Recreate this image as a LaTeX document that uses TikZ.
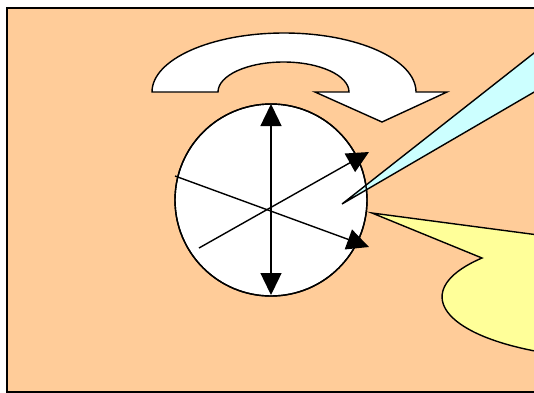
\documentclass[tikz,border=0pt]{standalone}
\usetikzlibrary{arrows.meta}
\definecolor{bgorange}{HTML}{FFCC99}
\definecolor{lightcyan}{HTML}{CCFFFF}
\definecolor{lightyellow}{HTML}{FFFF99}
\begin{document}
\begin{tikzpicture}[x=1pt,y=1pt,
  outline/.style={draw=black,line width=1.4pt,line join=miter},
  arr/.style={line width=1.4pt,-{Triangle[length=22pt,width=21pt]}},
  darr/.style={line width=1.4pt,{Triangle[length=22pt,width=21pt]}-{Triangle[length=22pt,width=21pt]}}]
\useasboundingbox (0,0) rectangle (534,-392);
\clip (0,0) rectangle (534,-392);
% background panel
\draw[outline,fill=bgorange] (7,-8) rectangle (560,-392);
% curved U-turn arrow
\draw[outline,fill=white] (152,-92) arc[start angle=180,end angle=0,x radius=132,y radius=59]
  -- (447,-92) -- (382,-122) -- (315,-92) -- (349,-92)
  arc[start angle=0,end angle=180,x radius=65.5,y radius=30] -- cycle;
% disc
\coordinate (c) at (271,-200);
\draw[outline,fill=white] (c) circle[radius=96];
% cyan callout wedge
\coordinate (ctip) at (342,-204);
\coordinate (cu) at (620,14.6);
\coordinate (cl) at (620,-42);
\draw[outline,fill=lightcyan] (ctip) -- (cu) -- (cl) -- cycle;
\draw[line width=1.4pt] (c) circle[radius=96];
% yellow callout
\coordinate (ytip) at (372,-213);
\coordinate (yk) at (482,-258);
\coordinate (ye) at (720,-259);
\draw[outline,fill=lightyellow] (ytip) -- (yk)
  arc[start angle=141.2,end angle=300,x radius=181,y radius=62] -- (ye) -- cycle;
% arrows
\coordinate (vt) at (271,-104);
\coordinate (vb) at (271,-295);
\coordinate (a1s) at (175,-176);
\coordinate (a1e) at (369,-247);
\coordinate (a2s) at (199,-248);
\coordinate (a2e) at (369,-152);
\draw[darr] (vb) -- (vt);
\draw[arr] (a1s) -- (a1e);
\draw[arr] (a2s) -- (a2e);
\end{tikzpicture}
\end{document}
